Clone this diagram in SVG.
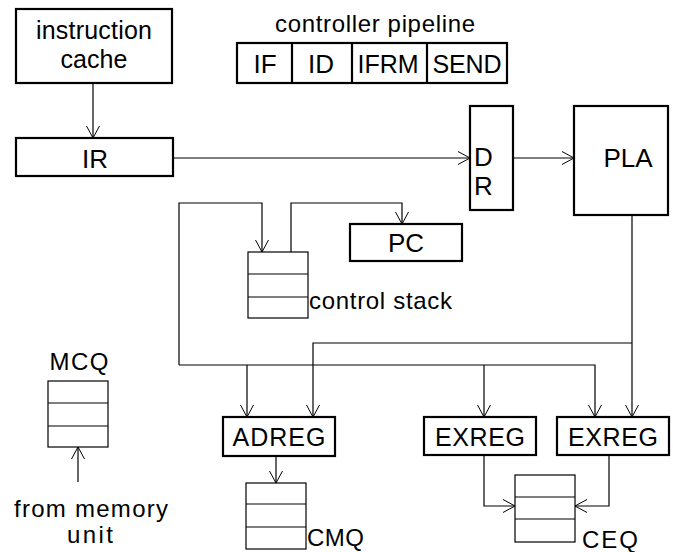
<svg xmlns="http://www.w3.org/2000/svg" width="673" height="552" viewBox="0 0 673 552">
<defs>
<marker id="arr" markerUnits="userSpaceOnUse" markerWidth="16" markerHeight="16" refX="12" refY="7" orient="auto" overflow="visible">
<path d="M0,0.5 L12,7 L0,13.5" fill="none" stroke="#000" stroke-width="1"/>
</marker>
<style>
.box{fill:#fff;stroke:#000;stroke-width:2.2}
.thin{fill:#fff;stroke:#000;stroke-width:1.2}
.ln{fill:none;stroke:#000;stroke-width:1.2}
.c{stroke:#000;stroke-width:1.2;fill:none;marker-end:url(#arr)}
text{font-family:"Liberation Sans",Arial,sans-serif;font-size:24px;fill:#000}
.m{text-anchor:middle}
.b{font-size:26px}
.k{font-size:25px}
</style>
</defs>
<rect width="673" height="552" fill="#fff"/>
<g id="connectors">
<path class="c" d="M93,83 V138"/>
<path class="c" d="M173,158 H470"/>
<path class="c" d="M513,158 H574"/>
<path class="c" d="M179,365 V203 H262 V252"/>
<path class="c" d="M179,365 H595 V417"/>
<path class="c" d="M247,365 V417"/>
<path class="c" d="M484,365 V417"/>
<path class="c" d="M291,252 V203 H402 V224"/>
<path class="c" d="M632,215 V417"/>
<path class="c" d="M632,343 H313 V417"/>
<path class="c" d="M276,456 V483"/>
<path class="c" d="M484,455 V506 H515"/>
<path class="c" d="M609,455 V506 H575"/>
<path class="c" d="M78,482 V447"/>
</g>
<g id="instruction-cache">
<rect class="box" x="16" y="9" width="156" height="74"/>
<text class="m k" x="94" y="39" textLength="116">instruction</text>
<text class="m k" x="94" y="68" textLength="67">cache</text>
</g>
<g id="controller-pipeline">
<text class="m" x="375" y="32" textLength="200">controller pipeline</text>
<rect class="box" x="237" y="43" width="270" height="40"/>
<line class="box" x1="292" y1="43" x2="292" y2="83"/>
<line class="box" x1="352" y1="43" x2="352" y2="83"/>
<line class="box" x1="427" y1="43" x2="427" y2="83"/>
<text class="m b" x="265" y="73">IF</text>
<text class="m b" x="321" y="73">ID</text>
<text class="m k" x="388" y="73" textLength="61">IFRM</text>
<text class="m k" x="467" y="73" textLength="69">SEND</text>
</g>
<g id="IR">
<rect class="box" x="16" y="138" width="157" height="38"/>
<text class="m b" x="95" y="168">IR</text>
</g>
<g id="DR">
<rect class="box" x="470" y="106" width="43" height="104"/>
<text class="b" x="474" y="166">D</text>
<text class="b" x="474" y="195">R</text>
</g>
<g id="PLA">
<rect class="box" x="574" y="106" width="94" height="109"/>
<text class="m b" x="628" y="167">PLA</text>
</g>
<g id="PC">
<rect class="box" x="350" y="224" width="112" height="37"/>
<text class="m b" x="406" y="252">PC</text>
</g>
<g id="control-stack">
<rect class="thin" x="248" y="252" width="60" height="66"/>
<line class="ln" x1="248" y1="274" x2="308" y2="274"/>
<line class="ln" x1="248" y1="297" x2="308" y2="297"/>
<text x="309" y="309" textLength="143">control stack</text>
</g>
<g id="MCQ">
<text class="m" x="79" y="370" textLength="59">MCQ</text>
<rect class="thin" x="48" y="381" width="60" height="66"/>
<line class="ln" x1="48" y1="403" x2="108" y2="403"/>
<line class="ln" x1="48" y1="426" x2="108" y2="426"/>
<text class="m" x="91" y="517" textLength="154">from memory</text>
<text class="m" x="90" y="543" textLength="46">unit</text>
</g>
<g id="ADREG">
<rect class="box" x="223" y="417" width="112" height="39"/>
<text class="m k" x="279" y="446" textLength="93">ADREG</text>
</g>
<g id="EXREG1">
<rect class="box" x="424" y="417" width="112" height="38"/>
<text class="m k" x="480" y="446" textLength="90">EXREG</text>
</g>
<g id="EXREG2">
<rect class="box" x="557" y="417" width="112" height="38"/>
<text class="m k" x="613" y="446" textLength="90">EXREG</text>
</g>
<g id="CMQ">
<rect class="thin" x="246" y="483" width="60" height="66"/>
<line class="ln" x1="246" y1="504" x2="306" y2="504"/>
<line class="ln" x1="246" y1="527" x2="306" y2="527"/>
<text x="307" y="546" textLength="57">CMQ</text>
</g>
<g id="CEQ">
<rect class="thin" x="515" y="475" width="60" height="67"/>
<line class="ln" x1="515" y1="497" x2="575" y2="497"/>
<line class="ln" x1="515" y1="519" x2="575" y2="519"/>
<text x="582" y="548" textLength="56">CEQ</text>
</g>
</svg>
